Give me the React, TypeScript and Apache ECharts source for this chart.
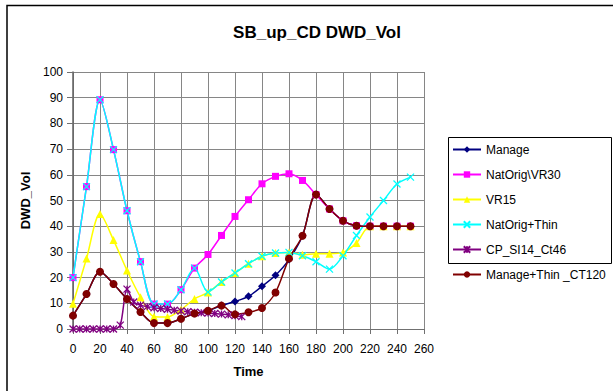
import React, { useEffect, useRef } from "react";
import * as echarts from "echarts";

const times = [0, 10, 20, 30, 40, 50, 60, 70, 80, 90, 100, 110, 120, 130, 140, 150, 160, 170, 180, 190, 200, 210, 220, 230, 240, 250];
const manage = [5.2, 13.6, 22.3, 17.5, 11.7, 6.6, 2.3, 2.3, 4, 6, 7.1, 9.1, 10.7, 12.7, 16.6, 20.9, 27, 36.3, 52.3, 46.7, 42.1, 40.2, 40, 40, 40, 40];
const natOrigVR30 = [20, 55.4, 89.2, 69.8, 46, 26.2, 9.7, 9.7, 15.3, 23.7, 29, 36.4, 43.8, 50.3, 56.5, 59.4, 60.4, 57.8, 52.3, 46.7, 42.1, 40.2, 40, 40, 40, 40];
const vr15 = [9.8, 27.4, 44.7, 34.6, 22.8, 12.4, 4.8, 4.7, 7.5, 11.7, 14.2, 18.3, 21.8, 25.4, 28.3, 29.6, 29.8, 28.9, 29.3, 29.3, 29.8, 33.5, 40, 40, 40, 40];
const natOrigThin = [20, 55.4, 89.2, 69.8, 46, 26.2, 9.7, 9.7, 15.3, 23.7, 14.4, 18.3, 21.8, 25.4, 28.3, 29.6, 29.8, 28.5, 26.2, 23.3, 28.5, 36.4, 43.6, 50, 56.4, 59.1];
const cpTimes = [0, 5, 10, 15, 20, 25, 30, 35, 40, 45, 50, 55, 60, 65, 70, 75, 80, 85, 90, 95, 100, 105, 110, 115, 120, 125];
const cpSI14 = [0, 0, 0, 0, 0, 0, 0, 1.5, 15.5, 10.5, 9.3, 8.7, 8.3, 8, 7.7, 7.3, 7, 6.7, 6.5, 6.3, 6.2, 6, 5.8, 5.5, 5.2, 4.8];
const manageThin = [5.2, 13.6, 22.3, 17.5, 11.7, 6.6, 2.3, 2.3, 4, 6, 7.1, 9.1, 5.7, 6.5, 8.2, 14.2, 27.4, 36.3, 52.3, 46.7, 42.1, 40.2, 40, 40, 40, 40];

const FONT = "Arial, 'Liberation Sans', sans-serif";

export default function App() {
  const ref = useRef<HTMLDivElement>(null);
  useEffect(() => {
    if (!ref.current) return;
    const chart = echarts.init(ref.current, undefined, { renderer: "svg" });
    const pair = (xs: number[], ys: number[]) => xs.map((x, i) => [x, ys[i]]);
    const mk = (name: string, color: string, symbol: string, size: number, data: number[][], stroke = false) => ({
      name,
      type: "line",
      data,
      smooth: 0.3,
      symbol,
      symbolSize: size,
      showSymbol: true,
      lineStyle: { color, width: 1.5 },
      itemStyle: stroke
        ? { color, borderColor: color, borderWidth: 1.3 }
        : { color, borderWidth: 0 },
      emphasis: { disabled: true },
    });
    const xPath = "path://M0 0L10 10M10 0L0 10";
    const starPath = "path://M5 0L5 10M0 0L10 10M10 0L0 10";
    chart.setOption({
      animation: false,
      backgroundColor: "#ffffff",
      textStyle: { fontFamily: FONT },
      grid: { left: 73, top: 72, right: 189, bottom: 62, containLabel: false },
      graphic: [
        {
          type: "rect",
          shape: { x: 7, y: 5.5, width: 700, height: 500 },
          style: { fill: "none", stroke: "#000", lineWidth: 1.5 },
          silent: true,
        },
        {
          type: "rect",
          shape: { x: 448.5, y: 137.5, width: 163, height: 126 },
          style: { fill: "none", stroke: "#000", lineWidth: 1 },
          silent: true,
        },
        {
          type: "text",
          x: 317,
          y: 32,
          style: {
            text: "SB_up_CD DWD_Vol",
            font: `bold 17px ${FONT}`,
            fill: "#000",
            textAlign: "center",
            textVerticalAlign: "middle",
          },
        },
      ],
      legend: {
        orient: "vertical",
        left: 452,
        top: 143.5,
        padding: 0,
        itemWidth: 28,
        itemHeight: 8,
        itemGap: 13,
        textStyle: { fontSize: 12, color: "#000", fontFamily: FONT },
        data: ["Manage", "NatOrig\\VR30", "VR15", "NatOrig+Thin", "CP_SI14_Ct46", "Manage+Thin _CT120"],
      },
      xAxis: {
        type: "value",
        min: 0,
        max: 260,
        interval: 20,
        name: "Time",
        nameLocation: "middle",
        nameGap: 36,
        nameTextStyle: { fontWeight: "bold", fontSize: 13, color: "#000", fontFamily: FONT },
        axisLine: { show: true, lineStyle: { color: "#707070", width: 1 } },
        axisTick: { show: true, length: 5, lineStyle: { color: "#707070" } },
        axisLabel: { fontSize: 12, color: "#000", margin: 14, fontFamily: FONT },
        splitLine: { show: true, lineStyle: { color: "#868686", width: 1 } },
      },
      yAxis: {
        type: "value",
        min: 0,
        max: 100,
        interval: 10,
        name: "DWD_Vol",
        nameLocation: "middle",
        nameGap: 38,
        nameTextStyle: { fontWeight: "bold", fontSize: 13, color: "#000", fontFamily: FONT },
        axisLine: { show: true, lineStyle: { color: "#606060", width: 1.5 } },
        axisTick: { show: true, length: 6, lineStyle: { color: "#707070" } },
        axisLabel: { fontSize: 12, color: "#000", margin: 10, fontFamily: FONT },
        splitLine: { show: true, lineStyle: { color: "#868686", width: 1 } },
      },
      series: [
        mk("Manage", "#000080", "diamond", 8, pair(times, manage)),
        mk("NatOrig\\VR30", "#FF00FF", "rect", 7, pair(times, natOrigVR30)),
        mk("VR15", "#FFFF00", "triangle", 8, pair(times, vr15)),
        mk("NatOrig+Thin", "#00FFFF", xPath, 7, pair(times, natOrigThin), true),
        mk("CP_SI14_Ct46", "#800080", starPath, 7, pair(cpTimes, cpSI14), true),
        mk("Manage+Thin _CT120", "#800000", "circle", 8, pair(times, manageThin)),
      ],
    });
    return () => chart.dispose();
  }, []);
  return (
    <div
      ref={ref}
      style={{ position: "absolute", left: 0, top: 0, width: 613, height: 391, background: "#fff" }}
    />
  );
}
